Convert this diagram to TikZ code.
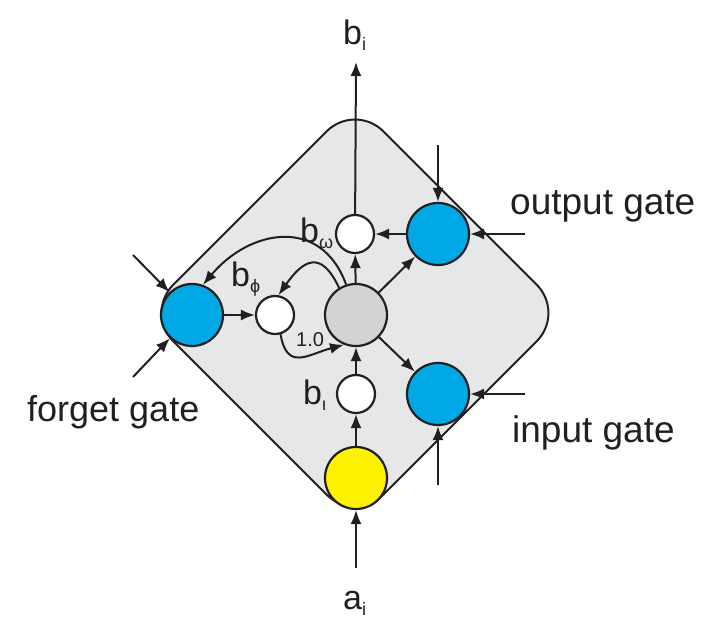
\documentclass[tikz,border=0pt]{standalone}
\usepackage{fontspec}
\setmainfont{Liberation Sans}
\usetikzlibrary{arrows.meta}
\definecolor{ink}{HTML}{231F20}
\definecolor{cellgray}{HTML}{E6E7E8}
\definecolor{coregray}{HTML}{D1D3D4}
\definecolor{gateblue}{HTML}{00A8E6}
\definecolor{inyellow}{HTML}{FFF200}
\newcommand{\lowidx}[1]{\raisebox{-6pt}{\fontsize{18}{18}\selectfont #1}}

\begin{document}
\begin{tikzpicture}[x=1pt,y=1pt,
    unit/.style={circle,draw=ink,line width=2.2pt,minimum size=62pt,inner sep=0pt},
    bias/.style={circle,draw=ink,fill=white,line width=2.2pt,minimum size=38pt,inner sep=0pt},
    blbl/.style={inner sep=0pt,anchor=base west,text=ink,font=\fontsize{34}{40}\selectfont},
    gatelbl/.style={inner sep=0pt,anchor=base west,text=ink,font=\fontsize{37}{44}\selectfont},
    arr/.style={draw=ink,line width=2pt,-{Latex[length=14pt,width=11pt]}}]
\useasboundingbox (0,0) rectangle (720,626);

%cell
\draw[draw=ink,line width=2pt,fill=cellgray,rounded corners=40pt]
    (355,523) -- (565,313) -- (355,103) -- (145,313) -- cycle;

%units
\node[unit,fill=coregray] (core) at (356,311) {};
\node[bias] (bomega) at (355,392) {};
\node[bias] (bphi) at (275,311) {};
\node[bias] (biota) at (356,232) {};
\node[unit,fill=gateblue] (outgate) at (438,392) {};
\node[unit,fill=gateblue] (ingate) at (438,232) {};
\node[unit,fill=gateblue] (forgetgate) at (192,311) {};
\node[unit,fill=inyellow] (cellin) at (356,148) {};

%free ends
\coordinate (cellout) at (356,564);
\coordinate (cellsrc) at (356,58);
\coordinate (outtop) at (438,481);
\coordinate (outright) at (525,392);
\coordinate (inright) at (525,232);
\coordinate (inbottom) at (438,141);
\coordinate (fgtop) at (133,371);
\coordinate (fgbottom) at (133,249);

%labels
\node[blbl] (lbi) at (343,581) {b\lowidx{i}};
\node[blbl] (lai) at (343,16) {a\lowidx{i}};
\node[blbl] (lbomega) at (300,383) {b\lowidx{ω}};
\node[blbl] (lbphi) at (231,339) {b\lowidx{ϕ}};
\node[blbl] (lbiota) at (303,221) {b\lowidx{ι}};
\node[gatelbl] (loutgate) at (510,411) {output gate};
\node[gatelbl] (lingate) at (512,183) {input gate};
\node[gatelbl,font=\fontsize{36}{44}\selectfont] (lforget) at (27,204) {forget gate};
\node[inner sep=0pt,anchor=base west,text=ink,font=\fontsize{20}{24}\selectfont] (lone) at (296,279) {1.0};

%arrows
\draw[arr] (cellsrc) -- (cellin);
\draw[arr] (cellin) -- (biota);
\draw[arr] (biota) -- (core);
\draw[arr] (core) -- (bomega);
\draw[arr] (bomega) -- (cellout);
\draw[arr] (core) -- (outgate);
\draw[arr] (core) -- (ingate);
\draw[arr] (outgate) -- (bomega);
\draw[arr] (forgetgate) -- (bphi);
\draw[arr] (outtop) -- (outgate);
\draw[arr] (outright) -- (outgate);
\draw[arr] (inright) -- (ingate);
\draw[arr] (inbottom) -- (ingate);
\draw[arr] (fgtop) -- (forgetgate);
\draw[arr] (fgbottom) -- (forgetgate);

%curves
\draw[arr] (core.108) to[out=110,in=50,looseness=1.3] (forgetgate.70);
\draw[arr] (core.122) to[out=115,in=55,looseness=1.8] (bphi.80);
\draw[arr] (bphi.-74) to[out=-80,in=195,looseness=1.5] (core.248);
\end{tikzpicture}
\end{document}
